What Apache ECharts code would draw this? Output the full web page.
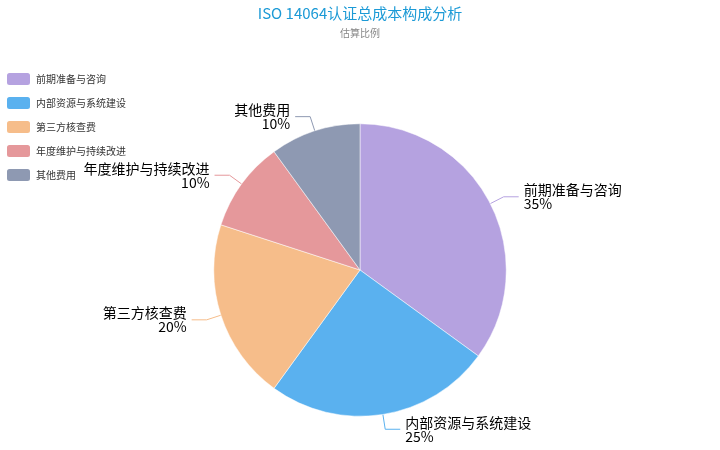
<!DOCTYPE html>
<html>
<head>
<meta charset="utf-8">
<script src="https://cdn.jsdelivr.net/npm/echarts@6/dist/echarts.min.js"></script>
<style>html,body{margin:0;padding:0;background:#fff;}#main{width:720px;height:450px;}</style>
</head>
<body>
<div id="main"></div>
<script>
var categories = ['前期准备与咨询', '内部资源与系统建设', '第三方核查费', '年度维护与持续改进', '其他费用'];
var values = [35, 25, 20, 10, 10];
var colors = ['#b5a2e0', '#5ab1ef', '#f6bd8a', '#e5989b', '#8e99b2'];

var chart = echarts.init(document.getElementById('main'));
chart.setOption({
  color: colors,
  title: {
    text: 'ISO 14064认证总成本构成分析',
    subtext: '估算比例',
    left: 'center',
    top: 1,
    itemGap: 7,
    textStyle: { color: '#1c9ad6', fontSize: 15, fontWeight: 'normal', fontFamily: 'Noto Sans CJK SC' },
    subtextStyle: { color: '#888', fontSize: 10, fontFamily: 'Noto Sans CJK SC' }
  },
  legend: {
    orient: 'vertical',
    left: 0,
    top: 66,
    itemWidth: 25,
    itemHeight: 14,
    itemGap: 8,
    textStyle: { fontSize: 10, color: '#333', fontFamily: 'Noto Sans CJK SC' },
    data: categories
  },
  series: [{
    type: 'pie',
    radius: '65%',
    center: ['50%', '60%'],
    data: categories.map(function (c, i) { return { name: c, value: values[i] }; }),
    itemStyle: { borderColor: '#fff', borderWidth: 0.5 },
    label: {
      formatter: '{b}\n{d}%',
      fontSize: 14,
      color: '#000',
      lineHeight: 14,
      fontFamily: 'Noto Sans CJK SC'
    },
    labelLine: { length: 15, length2: 15 }
  }]
});
</script>
</body>
</html>
